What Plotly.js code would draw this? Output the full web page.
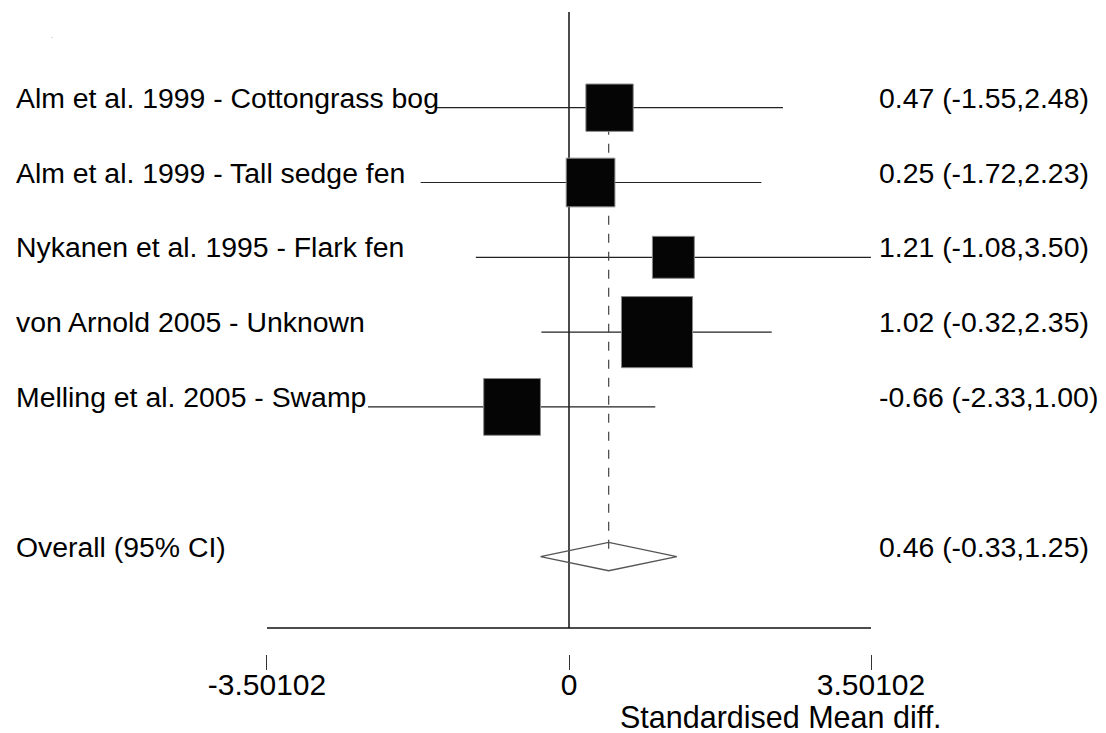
<!DOCTYPE html>
<html>
<head>
<meta charset="utf-8">
<script src="https://cdn.plot.ly/plotly-3.0.1.min.js"></script>
<style>
  html, body { margin: 0; padding: 0; background: #ffffff; }
  #chart { width: 1106px; height: 733px; }
</style>
</head>
<body>
<div id="chart"></div>
<script>
// ---- Data ----
const studies = [
  "Alm et al. 1999 - Cottongrass bog",
  "Alm et al. 1999 - Tall sedge fen",
  "Nykanen et al. 1995 - Flark fen",
  "von Arnold 2005 - Unknown",
  "Melling et al. 2005 - Swamp"
];
const smd     = [0.47, 0.25, 1.21, 1.02, -0.66];
const ciLow   = [-1.55, -1.72, -1.08, -0.32, -2.33];
const ciHigh  = [2.48, 2.23, 3.50, 2.35, 1.00];
const weights = [15.3, 16.2, 12.0, 34.5, 22.0];   // % weight (box area)
const rows    = [1, 2, 3, 4, 5];

const overallLabel = "Overall (95% CI)";
const overallEst  = 0.46;
const overallLow  = -0.33;
const overallHigh = 1.25;
const overallRow  = 7;

const tickVals = [-3.50102, 0, 3.50102];
const tickText = ["-3.50102", "0", "3.50102"];
const xTitle = "Standardised Mean diff.";

// ---- Build traces ----
const FONT = "Liberation Sans, Arial, sans-serif";
const fmt = v => v.toFixed(2);

const ciX = [], ciY = [];
rows.forEach((r, i) => {
  ciX.push(ciLow[i], ciHigh[i], null);
  ciY.push(r, r, null);
});

const ciTrace = {
  type: "scatter", mode: "lines", x: ciX, y: ciY,
  line: { color: "#222222", width: 1.2 },
  hoverinfo: "skip", showlegend: false
};

const dashTrace = {
  type: "scatter", mode: "lines",
  x: [overallEst, overallEst], y: [rows[0], overallRow],
  line: { color: "#444444", width: 1.2, dash: "dash" },
  hoverinfo: "skip", showlegend: false
};

const boxTrace = {
  type: "scatter", mode: "markers", x: smd, y: rows,
  marker: {
    symbol: "square", color: "#050505", opacity: 1,
    size: weights.map(w => 12.1 * Math.sqrt(w)),
    line: { color: "#888888", width: 1 }
  },
  showlegend: false
};

const dh = 0.19;
const diamondTrace = {
  type: "scatter", mode: "lines",
  x: [overallLow, overallEst, overallHigh, overallEst, overallLow],
  y: [overallRow, overallRow - dh, overallRow, overallRow + dh, overallRow],
  line: { color: "#555555", width: 1.3 },
  hoverinfo: "skip", showlegend: false
};

// ---- Annotations (text columns) ----
const annotations = [];
const labelX = 14 / 1106;
const statX = 877 / 1106;
const TS = 28.4;
rows.forEach((r, i) => {
  annotations.push({
    xref: "paper", yref: "y", x: labelX, y: r, yshift: 10,
    xanchor: "left", yanchor: "middle", showarrow: false,
    text: studies[i], font: { family: FONT, size: TS, color: "#000" }
  });
  annotations.push({
    xref: "paper", yref: "y", x: statX, y: r, yshift: 10,
    xanchor: "left", yanchor: "middle", showarrow: false,
    text: fmt(smd[i]) + " (" + fmt(ciLow[i]) + "," + fmt(ciHigh[i]) + ")",
    font: { family: FONT, size: TS, color: "#000" }
  });
});
annotations.push({
  xref: "paper", yref: "y", x: labelX, y: overallRow, yshift: 10,
  xanchor: "left", yanchor: "middle", showarrow: false,
  text: overallLabel, font: { family: FONT, size: TS, color: "#000" }
});
annotations.push({
  xref: "paper", yref: "y", x: statX, y: overallRow, yshift: 10,
  xanchor: "left", yanchor: "middle", showarrow: false,
  text: fmt(overallEst) + " (" + fmt(overallLow) + "," + fmt(overallHigh) + ")",
  font: { family: FONT, size: TS, color: "#000" }
});
annotations.push({
  xref: "paper", yref: "paper", x: 944 / 1106, y: (670 - 717) / 670,
  xanchor: "right", yanchor: "middle", showarrow: false,
  text: xTitle, font: { family: FONT, size: 30.5, color: "#000" }
});
annotations.push({
  xref: "paper", yref: "paper", x: 52 / 1106, y: (670 - 36) / 670,
  xanchor: "center", yanchor: "middle", showarrow: false,
  text: ".", font: { family: FONT, size: 6, color: "#333" }
});

// ---- Layout ----
const layout = {
  width: 1106, height: 733,
  margin: { l: 0, r: 0, t: 0, b: 63, pad: 0 },
  paper_bgcolor: "#ffffff", plot_bgcolor: "#ffffff",
  showlegend: false,
  xaxis: {
    range: [-6.596, 6.225], fixedrange: true,
    showgrid: false, zeroline: false, showline: false,
    tickvals: tickVals, ticktext: tickText,
    ticks: "inside", ticklen: 15, tickwidth: 1, tickcolor: "#333333",
    ticklabelstandoff: -6,
    tickfont: { family: FONT, size: 30, color: "#000" }
  },
  yaxis: {
    range: [8.517, -0.44], fixedrange: true, visible: false,
    showgrid: false, zeroline: false
  },
  shapes: [
    { type: "line", xref: "x", yref: "paper", x0: 0, x1: 0,
      y0: (670 - 628) / 670, y1: (670 - 12) / 670,
      line: { color: "#111111", width: 1.5 }, layer: "below" },
    { type: "line", xref: "x", yref: "paper", x0: tickVals[0], x1: tickVals[2],
      y0: (670 - 628) / 670, y1: (670 - 628) / 670,
      line: { color: "#111111", width: 1.5 } }
  ],
  annotations: annotations
};

Plotly.newPlot("chart", [ciTrace, dashTrace, boxTrace, diamondTrace], layout,
  { displayModeBar: false, staticPlot: true });
</script>
</body>
</html>
